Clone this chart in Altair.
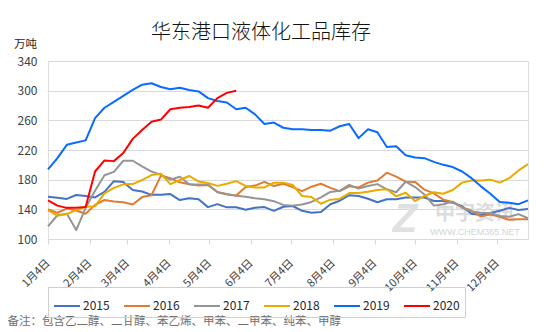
import altair as alt
import pandas as pd
import datetime as dt

years = ["2015", "2016", "2017", "2018", "2019", "2020"]
colors = ["#4472C4", "#E07B32", "#959595", "#E8AB00", "#0A6BFF", "#FF0000"]
widths = [2, 2, 2, 2, 3.5, 2.5]

v2015 = [157, 155.7, 154, 159.3, 158, 156, 163.5, 178, 177, 166, 164, 159.5, 159.5, 160.6,
         152.5, 154.8, 153.5, 143, 147, 142.7, 142.7, 139.5, 142, 143, 138, 143.5, 144.5,
         138, 135.4, 136.4, 146.8, 151.6, 159, 158, 154.3, 149.5, 153.5, 153.5, 156, 156,
         156, 151.2, 151.2, 149, 144, 134, 132.3, 135, 138, 142, 139, 140.4]
v2016 = [140, 135.4, 141, 138.5, 134, 146, 152.6, 150.5, 149.5, 146.5, 156.5, 159, 185.5,
         182, 176.4, 173.7, 172, 172.8, 163.5, 160.6, 158.5, 170, 172, 177, 171.5, 174.5,
         170, 164.5, 170.5, 174.5, 169, 164.5, 171, 169.5, 176, 179, 189.4, 184, 177.2,
         177, 166.5, 161.5, 153, 150, 142.5, 138, 130.5, 133, 130, 126, 126.5, 126.5]
v2017 = [117, 132, 134, 112, 142, 165, 186, 190.5, 205.5, 205.5, 198, 191, 186.5, 180,
         184, 173.7, 173.5, 173.5, 163, 160, 158.4, 157, 155, 153.5, 151, 146, 145, 146.5,
         150, 156, 163.5, 165, 173, 168, 171.5, 174, 167, 163, 177.2, 170, 160, 145, 147,
         150.3, 142.5, 137.2, 135.5, 135, 131, 130, 133.5, 128]
v2018 = [138.5, 131.4, 133.7, 139, 143.5, 144, 161.6, 169, 173.7, 174, 179.5, 186.2, 188,
         174, 179.5, 185, 177.5, 175.5, 171.6, 174.5, 178, 171.5, 169.5, 169.5, 176, 176,
         172.8, 158, 156.5, 147.5, 153, 154, 162, 162, 163.7, 166, 167, 157.5, 162.4,
         151.2, 158, 163, 161, 166, 176, 179, 179, 180, 176, 182, 192.5, 201]
v2019 = [194, 209, 227, 230, 233, 263, 277, 285, 293, 301, 308, 310, 305, 302, 304, 301,
         299, 290, 286, 284, 275, 277, 268, 255, 257, 250, 248, 248, 247, 247, 246, 252,
         255, 236, 248, 244, 224, 225, 213, 210, 209, 204, 200, 197, 191, 182, 171, 161,
         150, 149, 147, 152]
v2020 = [152, 145, 142, 142, 143, 191, 206, 205, 216, 235, 247, 258, 261, 275, 277, 278,
         280, 277, 290, 297, 300]

series = [v2015, v2016, v2017, v2018, v2019, v2020]
tick_months = list(range(1, 13))

title_text = "华东港口液体化工品库存"
unit_text = "万吨"
note_text = "备注：包含乙二醇、二甘醇、苯乙烯、甲苯、二甲苯、纯苯、甲醇"
wm_texts = ["Z", "中宇资讯", "WWW.CHEM365.NET"]

base = dt.date(2019, 1, 4)
rows = []
for yr, vals in zip(years, series):
    for i, v in enumerate(vals):
        d = base + dt.timedelta(days=7 * i)
        rows.append({"year": yr, "date": d.isoformat(), "value": v})
df = pd.DataFrame(rows)

FONT = "Noto Sans CJK SC"

x_enc = alt.X(
    "date:T",
    scale=alt.Scale(type="utc",
                    domain=[alt.DateTime(year=2019, month=1, date=4, utc=True),
                            alt.DateTime(year=2019, month=12, date=27, utc=True)]),
    axis=alt.Axis(
        values=[alt.DateTime(year=2019, month=m, date=4, utc=True) for m in tick_months],
        labelExpr="(utcmonth(datum.value)+1) + '月' + utcdate(datum.value) + '日'",
        labelAngle=315, labelAlign="right", labelBaseline="middle",
        labelPadding=17, labelFontSize=11, labelColor="#404040", labelFont=FONT,
        labelOverlap=False, labelFlush=False,
        grid=False, domain=True, domainColor="#d9d9d9", ticks=True, tickColor="#d9d9d9",
        tickSize=5,
        title=note_text, titleAngle=0, titleAlign="left", titleBaseline="middle",
        titleX=-41, titleY=82, titleFontSize=11.5, titleFontWeight="normal",
        titleColor="#6f6f6f", titleFont=FONT,
    ),
)

y_enc = alt.Y(
    "value:Q",
    scale=alt.Scale(domain=[100, 340], nice=False, zero=False),
    axis=alt.Axis(
        values=[100, 140, 180, 220, 260, 300, 340],
        grid=True, gridColor="#d9d9d9", domain=False, ticks=False,
        labelPadding=11, labelFontSize=12, labelColor="#404040", labelFont=FONT,
        title=unit_text, titleAngle=0, titleAlign="center", titleBaseline="middle",
        titleX=-23, titleY=-17, titleFontSize=11.5, titleFontWeight="normal",
        titleColor="#262626", titleFont=FONT,
    ),
)

lines = alt.Chart(df).mark_line(strokeJoin="round", strokeCap="butt").encode(
    x=x_enc,
    y=y_enc,
    color=alt.Color(
        "year:N",
        scale=alt.Scale(domain=years, range=colors),
        legend=alt.Legend(
            title=None, orient="none", legendX=0, legendY=226, direction="horizontal",
            columns=6, symbolType="stroke", symbolSize=676, symbolStrokeWidth=2.5,
            labelFontSize=12, labelColor="#262626", labelFont=FONT, labelOffset=2,
            columnPadding=10, padding=5, strokeColor="#d0d0d0",
        ),
    ),
    strokeWidth=alt.StrokeWidth(
        "year:N", scale=alt.Scale(domain=years, range=widths), legend=None
    ),
)

wm_logo = alt.Chart(pd.DataFrame({"t": [wm_texts[0]]})).mark_text(
    fontSize=40, fontWeight="bold", fontStyle="italic", color="#e0e0e0",
    font="Liberation Sans", align="center", baseline="middle"
).encode(text="t:N", x=alt.value(357), y=alt.value(159))
wm_name = alt.Chart(pd.DataFrame({"t": [wm_texts[1]]})).mark_text(
    fontSize=20, fontWeight="bold", color="#dcdcdc",
    font=FONT, align="center", baseline="middle"
).encode(text="t:N", x=alt.value(427), y=alt.value(153))
wm_url = alt.Chart(pd.DataFrame({"t": [wm_texts[2]]})).mark_text(
    fontSize=9, color="#d4d4d4",
    font="Liberation Sans", align="center", baseline="middle"
).encode(text="t:N", x=alt.value(427), y=alt.value(171))

chart = alt.layer(wm_logo, wm_name, wm_url, lines).properties(
    width=480,
    height=178,
    autosize=alt.AutoSizeParams(type="none"),
    padding={"left": 48, "top": 61, "right": 26, "bottom": 93},
    title=alt.Title(title_text, fontSize=20, font=FONT, fontWeight=300,
                    color="#111111", anchor="middle", frame="group", dx=-27, offset=-5),
).configure_view(stroke=None).configure(background="white")

chart.save("out.html", embed_options={"renderer": "svg", "actions": False})
